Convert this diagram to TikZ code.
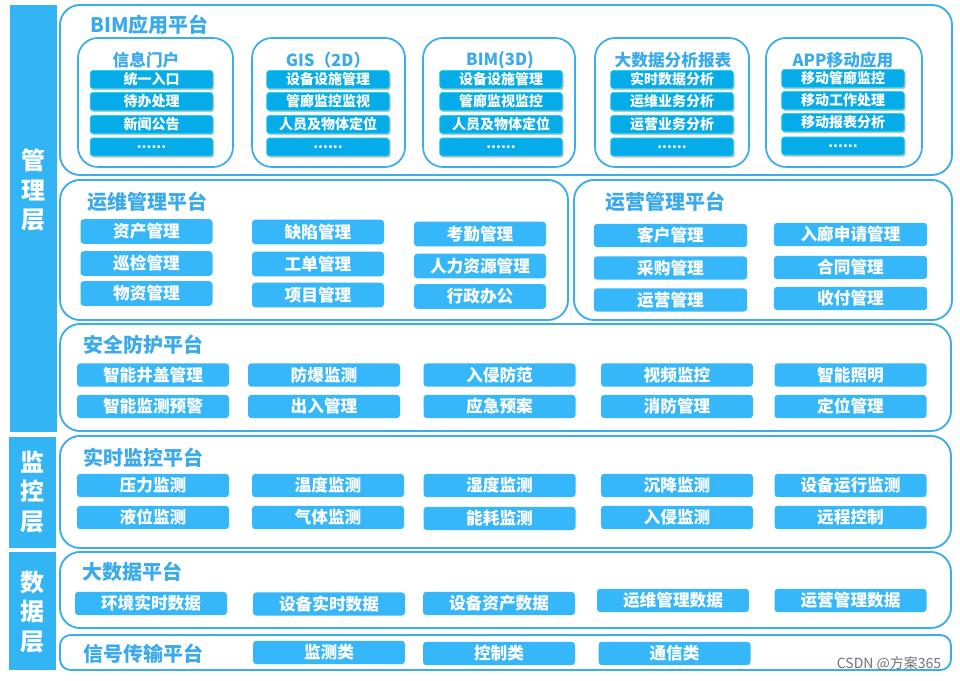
\documentclass[tikz,border=0pt]{standalone}
\usepackage{fontspec}
\setmainfont{Noto Sans CJK SC}
\usetikzlibrary{shadows}

\definecolor{barblue}{RGB}{51,181,245}
\definecolor{lineblue}{RGB}{58,174,236}
\definecolor{titleblue}{RGB}{58,170,235}
\definecolor{itemblue}{RGB}{53,183,250}
\definecolor{bimblue}{RGB}{6,172,234}
\definecolor{bimedge}{RGB}{40,215,230}

\tikzset{
  layer/.style={text=white, font=\bfseries\fontsize{18}{22}\selectfont, align=center},
  panel/.style={draw=lineblue, line width=1.4pt, rounded corners=15pt, fill=white},
  subpanel/.style={draw=lineblue, line width=1.3pt, rounded corners=15pt, fill=white},
  ptitle/.style={text=titleblue, font=\bfseries\fontsize{15}{18}\selectfont, anchor=west, inner sep=0pt},
  subtitle/.style={text=titleblue, font=\bfseries\fontsize{12.5}{15}\selectfont, inner sep=0pt},
  item/.style={fill=itemblue, rounded corners=2.5pt, text=white, inner sep=0pt,
    font=\bfseries\fontsize{12.5}{15}\selectfont, minimum width=114pt, minimum height=17.5pt},
  opsitem/.style={item, minimum width=99pt, minimum height=18.5pt},
  bizitem/.style={item, minimum width=115pt, minimum height=17.5pt},
  bimitem/.style={fill=bimblue, draw=bimedge, line width=0.5pt, rounded corners=2pt, text=white,
    inner sep=0pt, font=\bfseries\fontsize{10.5}{13}\selectfont, minimum width=92pt, minimum height=13.5pt,
    drop shadow={shadow xshift=1pt, shadow yshift=-1.2pt, fill=black!40, opacity=0.6}}
}

\begin{document}
\begin{tikzpicture}[x=0.75pt,y=-0.75pt]
\useasboundingbox (0,0) rectangle (960,681);

%layers
\fill[barblue] (10,5) rectangle (57,432);
\fill[barblue] (9,437) rectangle (56,548);
\fill[barblue] (9,552) rectangle (56,670);
\node[layer] (guanli) at (33.5,190) {管\\理\\层};
\node[layer] (jiankong) at (32.5,492) {监\\控\\层};
\node[layer] (shuju) at (32.5,612) {数\\据\\层};

%panels
\draw[panel] (60,5) rectangle (952,175);
\draw[panel] (60,180) rectangle (568,320);
\draw[panel] (574,180) rectangle (952,320);
\draw[panel] (60,324) rectangle (951,431);
\draw[panel] (60,436) rectangle (951,548);
\draw[panel] (60,552) rectangle (951,628);
\draw[panel, rounded corners=8pt] (60,635) rectangle (951,670);

\node[ptitle] (tbim) at (90,25) {BIM应用平台};
\node[ptitle] (tyw) at (87,202) {运维管理平台};
\node[ptitle] (tyy) at (605,202) {运营管理平台};
\node[ptitle] (taq) at (83,345) {安全防护平台};
\node[ptitle] (tss) at (83,458) {实时监控平台};
\node[ptitle] (tdsj) at (82,572) {大数据平台};
\node[ptitle] (txh) at (83,654) {信号传输平台};

%BIM
\draw[subpanel] (78,38) rectangle (233,167);
\draw[subpanel] (252,38) rectangle (405,167);
\draw[subpanel] (423,38) rectangle (575,167);
\draw[subpanel] (595,38) rectangle (749,167);
\draw[subpanel] (766,38) rectangle (922,167);

\node[subtitle] (xxmh) at (146,60) {信息门户};
\node[subtitle] (gis) at (328,60) {GIS（2D）};
\node[subtitle] (bim3d) at (500,60) {BIM(3D)};
\node[subtitle] (dsjfx) at (673,60) {大数据分析报表};
\node[subtitle] (app) at (843,60) {APP移动应用};

\node[bimitem] (b11) at (151.5,79.5) {统一入口};
\node[bimitem] (b12) at (151.5,101.5) {待办处理};
\node[bimitem] (b13) at (151.5,124.5) {新闻公告};
\node[bimitem] (b14) at (151.5,147) {......};

\node[bimitem] (b21) at (328,79.5) {设备设施管理};
\node[bimitem] (b22) at (328,101.5) {管廊监控监视};
\node[bimitem] (b23) at (328,124.5) {人员及物体定位};
\node[bimitem] (b24) at (328,147) {......};

\node[bimitem] (b31) at (501,79.5) {设备设施管理};
\node[bimitem] (b32) at (501,101.5) {管廊监视监控};
\node[bimitem] (b33) at (501,124.5) {人员及物体定位};
\node[bimitem] (b34) at (501,147) {......};

\node[bimitem] (b41) at (672,79.5) {实时数据分析};
\node[bimitem] (b42) at (672,101.5) {运维业务分析};
\node[bimitem] (b43) at (672,124.5) {运营业务分析};
\node[bimitem] (b44) at (672,147) {......};

\node[bimitem] (b51) at (843,78.5) {移动管廊监控};
\node[bimitem] (b52) at (843,100.5) {移动工作处理};
\node[bimitem] (b53) at (843,122.5) {移动报表分析};
\node[bimitem] (b54) at (843,146) {......};

%运维
\node[opsitem] (zc) at (146.5,231.5) {资产管理};
\node[opsitem] (xj) at (146.5,263.5) {巡检管理};
\node[opsitem] (wz) at (146.5,293.5) {物资管理};
\node[opsitem] (qx) at (318,232) {缺陷管理};
\node[opsitem] (gd) at (318,264) {工单管理};
\node[opsitem] (xm) at (318,295) {项目管理};
\node[opsitem] (kq) at (480,234) {考勤管理};
\node[opsitem] (rl) at (480,266) {人力资源管理};
\node[opsitem] (xz) at (480,296.5) {行政办公};

%运营
\node[bizitem] (kh) at (670.5,235.5) {客户管理};
\node[bizitem] (cg) at (670.5,268) {采购管理};
\node[bizitem] (yy) at (670.5,300) {运营管理};
\node[bizitem] (rlsq) at (850.5,234.5) {入廊申请管理};
\node[bizitem] (ht) at (850.5,267.5) {合同管理};
\node[bizitem] (sf) at (850.5,298.5) {收付管理};

%安全
\node[item] (jg) at (153,375) {智能井盖管理};
\node[item] (fb) at (324,375) {防爆监测};
\node[item] (rqff) at (499.5,375) {入侵防范};
\node[item] (spjk) at (677,375) {视频监控};
\node[item] (zm) at (850.5,375) {智能照明};
\node[item] (yj) at (153,406.5) {智能监测预警};
\node[item] (cr) at (324,406.5) {出入管理};
\node[item] (ya) at (499.5,406.5) {应急预案};
\node[item] (xf) at (677,406.5) {消防管理};
\node[item] (dw) at (850.5,406.5) {定位管理};

%实时
\node[item] (yl) at (153,485.5) {压力监测};
\node[item] (wd) at (328,485.5) {温度监测};
\node[item] (sd) at (499.5,485.5) {湿度监测};
\node[item] (cj) at (677,485.5) {沉降监测};
\node[item] (sbyx) at (850.5,485.5) {设备运行监测};
\node[item] (yw) at (153,517.5) {液位监测};
\node[item] (qt) at (328,517.5) {气体监测};
\node[item] (nh) at (499.5,518.5) {能耗监测};
\node[item] (rqjc) at (677,517.5) {入侵监测};
\node[item] (yc) at (850.5,517.5) {远程控制};

%大数据
\node[item] (hjss) at (151,603.5) {环境实时数据};
\node[item] (sbss) at (329,604) {设备实时数据};
\node[item] (sbzc) at (499,603.5) {设备资产数据};
\node[item] (ywgl) at (673,600.5) {运维管理数据};
\node[item] (yygl) at (850.5,600.5) {运营管理数据};

%信号
\node[item] (jcl) at (329,652.5) {监测类};
\node[item] (kzl) at (499,653.5) {控制类};
\node[item] (txl) at (674.5,653.5) {通信类};

\node[text=black!55, font=\fontsize{10.5}{12}\selectfont, inner sep=0pt] (csdn) at (889,664) {CSDN @方案365};

\end{tikzpicture}
\end{document}
